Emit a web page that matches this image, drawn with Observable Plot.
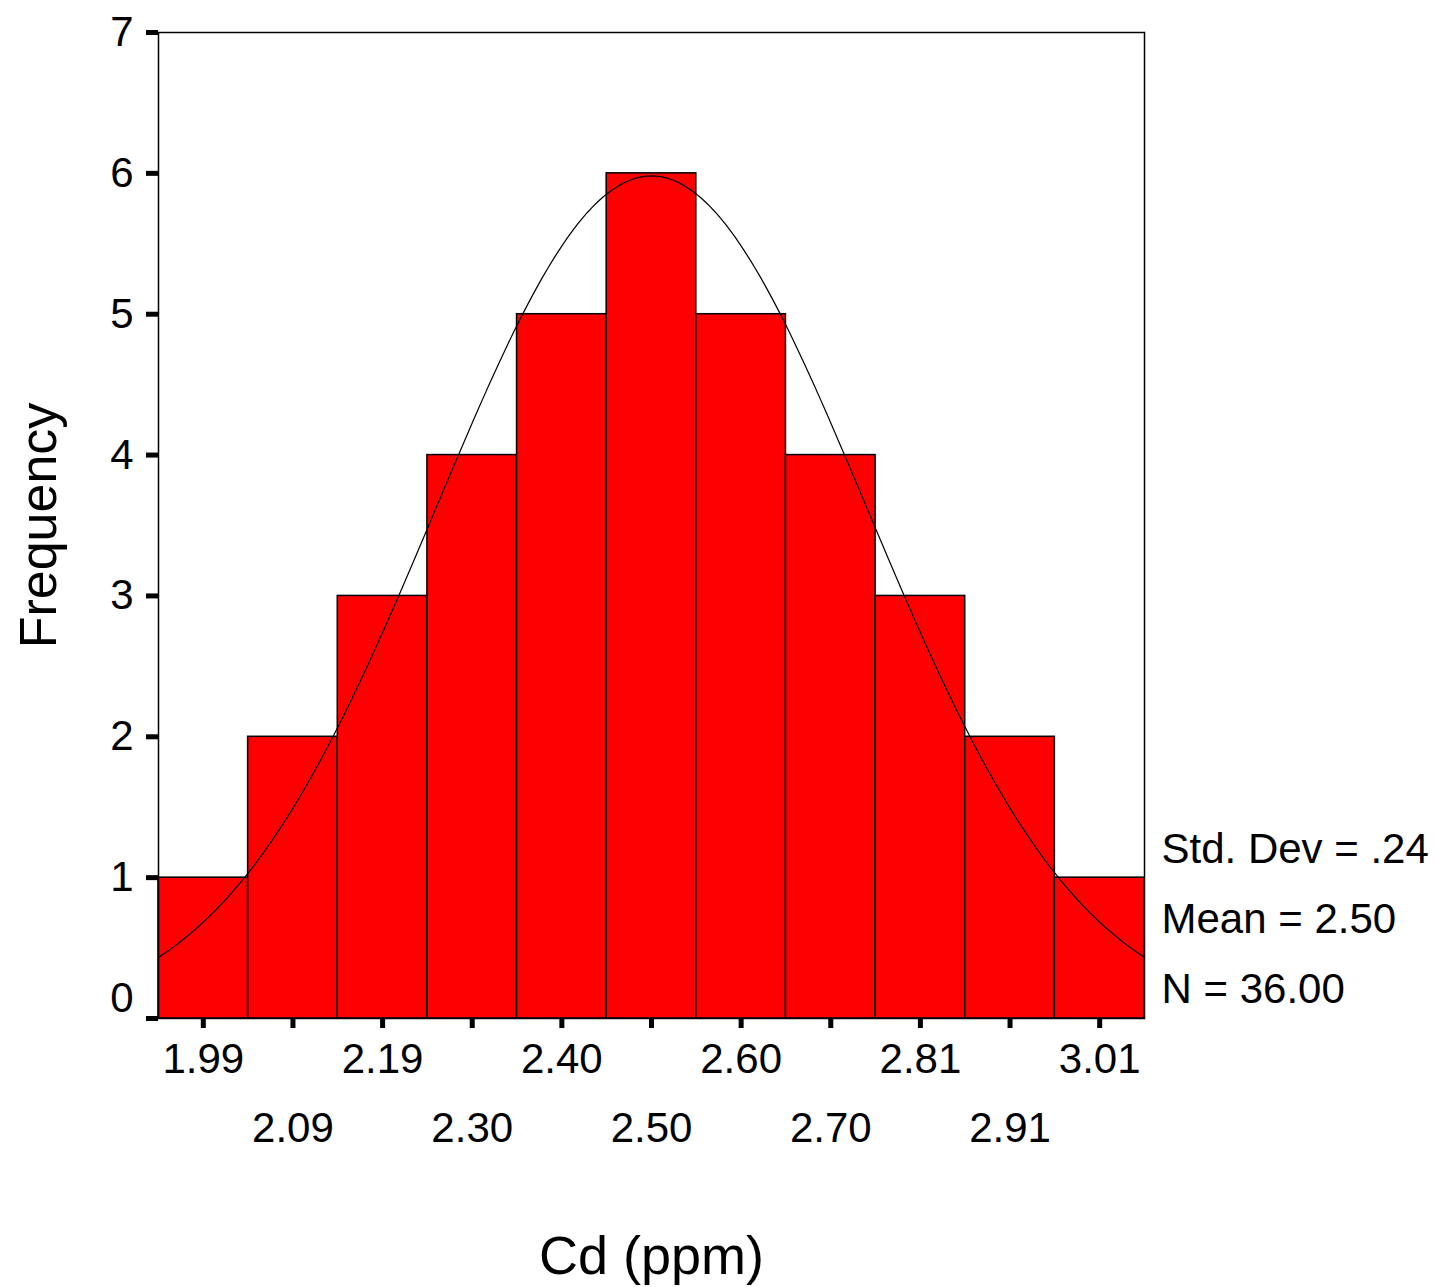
<!DOCTYPE html>
<html>
<head>
<meta charset="utf-8">
<script src="https://cdn.jsdelivr.net/npm/d3@7"></script>
<script src="https://cdn.jsdelivr.net/npm/@observablehq/plot@0.6"></script>
<style>
  html, body { margin: 0; padding: 0; background: #fff; }
  svg { display: block; }
</style>
</head>
<body>
<div id="chart"></div>
<script>
// ---- data ----
const binLabels = ["1.99", "2.09", "2.19", "2.30", "2.40", "2.50", "2.60", "2.70", "2.81", "2.91", "3.01"];
const frequencies = [1, 2, 3, 4, 5, 6, 5, 4, 3, 2, 1];
const firstBinCenter = 1.99;
const binWidth = 0.102;
const statLabels = ["Std. Dev = .24", "Mean = 2.50", "N = 36.00"];
const meanValue = 2.50;
const stdDevValue = 0.2449;
const countN = 36;
const yTickValues = [0, 1, 2, 3, 4, 5, 6, 7];

// ---- derived ----
const bins = frequencies.map((f, i) => {
  const c = firstBinCenter + i * binWidth;
  return { center: c, x1: c - binWidth / 2, x2: c + binWidth / 2, freq: f, label: binLabels[i], row: i % 2 };
});
const xMin = bins[0].x1, xMax = bins[bins.length - 1].x2;
// fitted normal curve from the displayed statistics
const curve = d3.range(0, 201).map(k => {
  const x = xMin + (xMax - xMin) * k / 200;
  const z = (x - meanValue) / stdDevValue;
  return { x, y: countN * binWidth * Math.exp(-0.5 * z * z) / (stdDevValue * Math.sqrt(2 * Math.PI)) };
});

const font = "'Liberation Sans', Arial, Helvetica, sans-serif";

const chart = Plot.plot({
  width: 1435,
  height: 1287,
  marginLeft: 158,
  marginRight: 291,
  marginTop: 32,
  marginBottom: 269,
  style: { fontFamily: font, background: "#fff", color: "#000", overflow: "visible" },
  x: { type: "linear", domain: [xMin, xMax], axis: null },
  y: { type: "linear", domain: [0, 7], axis: null },
  marks: [
    Plot.rect(bins, { x1: "x1", x2: "x2", y1: 0, y2: "freq", fill: "#ff0000", stroke: "#000", strokeWidth: 1.5 }),
    Plot.line(curve, { x: "x", y: "y", stroke: "#000", strokeWidth: 1.2, curve: "linear" }),
    Plot.frame({ stroke: "#000", strokeWidth: 1.5 }),
    // x ticks
    Plot.axisX({ ticks: bins.map(d => d.center), tickSize: 10, strokeWidth: 5, text: null, anchor: "bottom" }),
    Plot.text(bins.filter(d => d.row === 0), { x: "center", text: "label", frameAnchor: "bottom", dy: 54, fontSize: 42, fill: "#000" }),
    Plot.text(bins.filter(d => d.row === 1), { x: "center", text: "label", frameAnchor: "bottom", dy: 123, fontSize: 42, fill: "#000" }),
    // y ticks
    Plot.axisY({ ticks: yTickValues, tickSize: 12, strokeWidth: 5, text: null, anchor: "left" }),
    Plot.text(yTickValues.filter(v => v > 0), { y: d => d, text: d => String(d), frameAnchor: "left", dx: -25, textAnchor: "end", fontSize: 42, fill: "#000" }),
    Plot.text([0], { y: d => d, text: d => String(d), frameAnchor: "left", dx: -25, dy: -20, textAnchor: "end", fontSize: 42, fill: "#000" }),
    // axis titles
    Plot.text(["Frequency"], { text: d => d, frameAnchor: "left", textAnchor: "middle", dx: -119, rotate: -90, fontSize: 52, fill: "#000" }),
    Plot.text(["Cd (ppm)"], { text: d => d, frameAnchor: "bottom", dy: 255, fontSize: 54, fill: "#000" }),
    // statistics
    Plot.text([statLabels.join("\n")], { text: d => d, frameAnchor: "bottom-right", dx: 17, dy: -108, textAnchor: "start", lineAnchor: "middle", lineHeight: 1.66, fontSize: 42, fill: "#000" })
  ]
});
document.getElementById("chart").appendChild(chart);
</script>
</body>
</html>
